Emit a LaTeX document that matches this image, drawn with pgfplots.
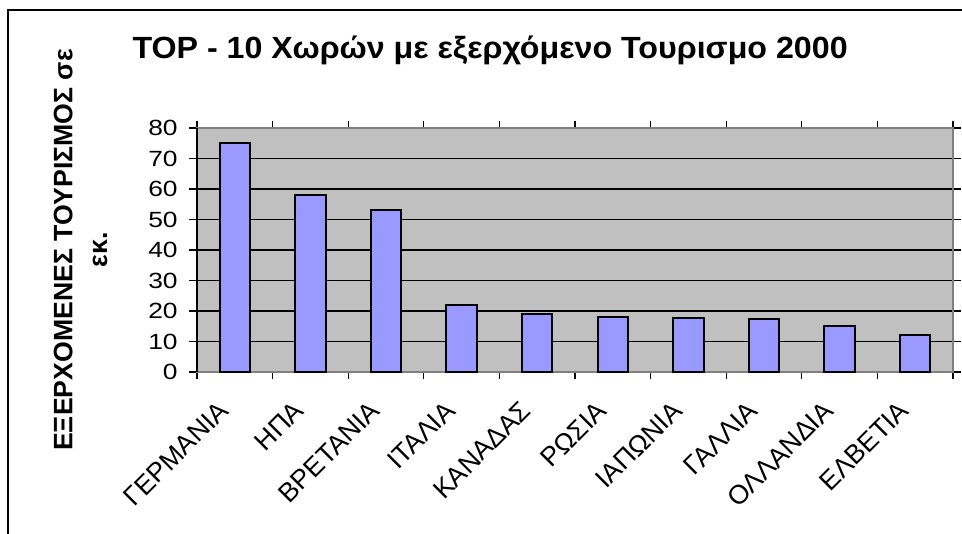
\documentclass[border=0pt]{standalone}
\usepackage{pgfplots}
\pgfplotsset{compat=1.18}
\usepackage{fontspec}
\setmainfont{Liberation Sans}
\newfontfamily\tickfont[FakeStretch=1.2]{Liberation Sans}
\newfontfamily\titlefont[FakeStretch=1.05]{Liberation Sans}
\definecolor{plotgray}{HTML}{C0C0C0}
\definecolor{barblue}{HTML}{9999FF}
\definecolor{bordergray}{HTML}{808080}
\begin{document}
\begin{tikzpicture}
\useasboundingbox (-147.75pt,-120.75pt) rectangle (573.75pt,279pt);
\draw[line width=1.3pt, black] (-141.75pt,-140pt) -- (-141.75pt,271.5pt) -- (600pt,271.5pt);
\begin{axis}[
  name=ax, at={(0,0)}, anchor=south west,
  scale only axis, width=567pt, height=183pt,
  xmin=-0.5, xmax=9.5, ymin=0, ymax=80,
  ytick={0,10,...,80},
  xtick={0,...,9},
  xticklabels={ΓΕΡΜΑΝΙΑ,ΗΠΑ,ΒΡΕΤΑΝΙΑ,ΙΤΑΛΙΑ,ΚΑΝΑΔΑΣ,ΡΩΣΙΑ,ΙΑΠΩΝΙΑ,ΓΑΛΛΙΑ,ΟΛΛΑΝΔΙΑ,ΕΛΒΕΤΙΑ},
  minor xtick={-0.5,0.5,...,9.5},
  major x tick style={draw=none},
  tick align=outside,
  major tick length=6pt, minor tick length=5.5pt,
  tick style={black, line width=0.8pt},
  ymajorgrids, grid style={black, line width=0.8pt},
  axis background/.style={fill=plotgray},
  axis line style={bordergray, line width=1.1pt},
  /pgf/number format/assume math mode=true,
  yticklabel style={font=\tickfont\fontsize{16.5}{18}\selectfont, anchor=east, xshift=-5pt},
  xticklabel style={font=\fontsize{20}{22}\selectfont, xshift=-6pt, yshift=-17pt, rotate=45, anchor=east},
  title={TOP - 10 Χωρών με εξερχόμενο Τουρισμο 2000},
  title style={font=\titlefont\fontsize{23}{26}\selectfont\bfseries, at={(axis description cs:0.3876,1.287)}, anchor=center},
  ylabel={ΕΞΕΡΧΟΜΕΝΕΣ ΤΟΥΡΙΣΜΟΣ σε\\εκ.},
  ylabel style={font=\fontsize{20}{26}\selectfont\bfseries, at={(axis description cs:-0.1541,0.5)}, anchor=center, align=center},
  clip=false,
]
\addplot[ybar, bar width=0.4, fill=barblue, draw=black, line width=1.5pt] coordinates {
(0,75) (1,58) (2,53) (3,22) (4,19) (5,18) (6,17.6) (7,17.5) (8,15) (9,12)
};
\draw[black, line width=1pt] (axis cs:-0.5,0) -- (axis cs:-0.5,80);
\end{axis}
\end{tikzpicture}
\end{document}
